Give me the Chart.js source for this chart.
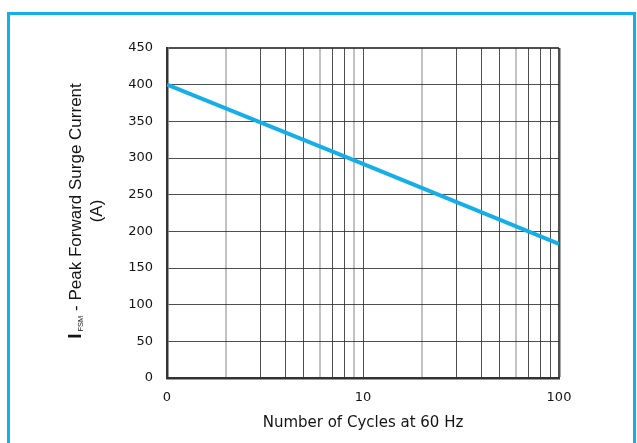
<!DOCTYPE html>
<html>
<head>
<meta charset="utf-8">
<script src="https://cdn.jsdelivr.net/npm/chart.js@4"></script>
<style>
    html, body { margin: 0; padding: 0; background: #fff; }
    #wrap { position: relative; width: 637px; height: 443px; overflow: hidden; }
    #frame { position: absolute; left: 7px; top: 12px; width: 629px; height: 470px;
             border: 3px solid #14aeea; box-sizing: border-box; }
    #chart { position: absolute; left: 0; top: 0; }
</style>
</head>
<body>
<div id="wrap">
    <div id="frame"></div>
    <canvas id="chart" width="637" height="443"></canvas>
</div>
<script>
// ---- DATA ----
const cycles = [1, 10, 100];
const surgeCurrent = [400, 292, 183];
const xGridValues = [1, 2, 3, 4, 5, 6, 7, 8, 9, 10, 20, 30, 40, 50, 60, 70, 80, 90, 100];
const xTickLabels = { 1: '0', 10: '10', 100: '100' };
const lightGrid = [2, 6, 9, 20, 60];

// ---- STYLE ----
const TICK_FONT = { family: 'DejaVu Sans', size: 13 };
const TXT = '#141414';
const DARK = 'rgba(35,35,35,.8)';

// y-axis title has a subscript, so draw it by hand
const yTitle = {
    id: 'yTitle',
    afterDraw(chart) {
        const ctx = chart.ctx;
        const parts = [
            { t: 'I', f: 'bold 19px "Liberation Sans"', dy: 0, gap: 0 },
            { t: 'FSM', f: '7.5px "Liberation Sans"', dy: 1.5, gap: 2 },
            { t: ' - Peak Forward Surge Current', f: '17px "Liberation Sans"', dy: 0, gap: 0 },
        ];
        ctx.save();
        ctx.fillStyle = TXT;
        ctx.textBaseline = 'alphabetic';
        ctx.textAlign = 'left';
        let total = 0;
        parts.forEach(p => { ctx.font = p.f; p.w = ctx.measureText(p.t).width; total += p.w + p.gap; });
        ctx.translate(81, 211);
        ctx.rotate(-Math.PI / 2);
        let x = -total / 2;
        parts.forEach(p => { x += p.gap; ctx.font = p.f; ctx.fillText(p.t, x, p.dy); x += p.w; });
        ctx.font = '17px "Liberation Sans"';
        ctx.textAlign = 'center';
        ctx.fillText('(A)', 0, 21);
        ctx.restore();
    }
};

new Chart(document.getElementById('chart'), {
    type: 'line',
    data: {
        datasets: [{
            data: cycles.map((c, i) => ({ x: c, y: surgeCurrent[i] })),
            borderColor: '#16aee8', borderWidth: 4, pointRadius: 0, tension: 0, fill: false,
        }]
    },
    options: {
        responsive: false, animation: false,
        layout: { padding: { top: 48, right: 78, left: 0, bottom: 0 } },
        plugins: { legend: { display: false }, tooltip: { enabled: false } },
        scales: {
            x: {
                type: 'logarithmic', min: 1, max: 100,
                afterBuildTicks: s => { s.ticks = xGridValues.map(v => ({ value: v })); },
                afterFit: s => { s.height = 65; },
                ticks: { autoSkip: false, maxRotation: 0, padding: 12, font: TICK_FONT, color: TXT,
                         callback: v => xTickLabels[v] ?? '' },
                grid: {
                    drawTicks: false,
                    color: c => lightGrid.includes(c.tick?.value) ? '#c2c2c2' : DARK,
                    lineWidth: c => lightGrid.includes(c.tick?.value) ? 2 : (c.tick?.value === 100 ? 2.5 : 1),
                },
                border: { color: '#333', width: 2.5 },
                title: { display: true, text: 'Number of Cycles at 60 Hz', color: TXT,
                         font: { family: 'DejaVu Sans', size: 15 }, padding: { top: 0, bottom: 11 } },
            },
            y: {
                min: 0, max: 450,
                afterFit: s => { s.width = 167; },
                ticks: { stepSize: 50, padding: 14, font: TICK_FONT, color: TXT },
                grid: {
                    drawTicks: false,
                    color: DARK,
                    lineWidth: c => c.tick?.value === 450 ? 2 : 1,
                },
                border: { color: '#333', width: 2.5 },
            },
        },
    },
    plugins: [yTitle],
});
</script>
</body>
</html>
